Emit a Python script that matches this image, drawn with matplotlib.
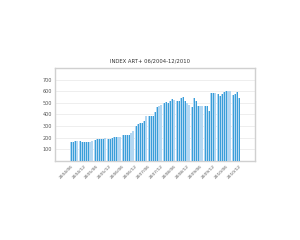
import matplotlib
matplotlib.use("Agg")
import matplotlib.pyplot as plt
import numpy as np

# monthly index values, 06/2004 .. 12/2010
months = [f"{y}/{m:02d}" for y in range(2004, 2011) for m in range(1, 13)][5:]
index_values = [
    165, 165, 168, 175, 175, 165, 162,
    160, 160, 165, 175, 180, 188,
    188, 188, 188, 195, 192, 190,
    200, 205, 205, 205, 210, 222,
    228, 225, 225, 240, 255, 300,
    320, 325, 325, 340,
    390, 390, 388, 388,
    420, 465, 475, 485, 500, 505, 500, 520, 530, 525, 520, 520,
    545, 548, 520, 500, 480, 465, 545, 520,
    470, 470, 470, 470, 470, 430,
    585, 585, 585, 575, 560, 580, 595, 598, 598, 598,
    570, 575, 595, 545,
]
tick_labels = months[::6]
y_ticks = [100, 200, 300, 400, 500, 600, 700]

plt.rcParams["font.family"] = "DejaVu Sans"

fig = plt.figure(figsize=(3, 2.4), dpi=100)
ax = fig.add_axes([0.183, 0.329, 0.667, 0.388])

x = np.arange(len(index_values))
ax.bar(x, index_values, width=0.9, color="#b3d7f2", zorder=2)
ax.bar(x + 0.3, index_values, width=0.35, color="#3a9fd9", zorder=3)

ax.set_xlim(-7.4, 85.4)
ax.set_ylim(0, 800)
ax.set_yticks(y_ticks)
ax.set_yticklabels([str(v) for v in y_ticks], fontsize=3.5, color="#555555")
ax.set_xticks(x[::6])
ax.set_xticklabels(tick_labels, fontsize=3.2, color="#555555",
                   rotation=45, ha="right", rotation_mode="anchor")
ax.tick_params(length=0, pad=2)
ax.grid(axis="y", color="#e8e8e8", linewidth=0.5, zorder=0)

for spine in ax.spines.values():
    spine.set_color("#d0d0d0")
    spine.set_linewidth(1.0)

fig.text(0.5, 0.745, "INDEX ART+ 06/2004-12/2010", ha="center", va="center",
         fontsize=3.8, color="#333333")

fig.savefig("out.png", dpi=100, facecolor="white")
